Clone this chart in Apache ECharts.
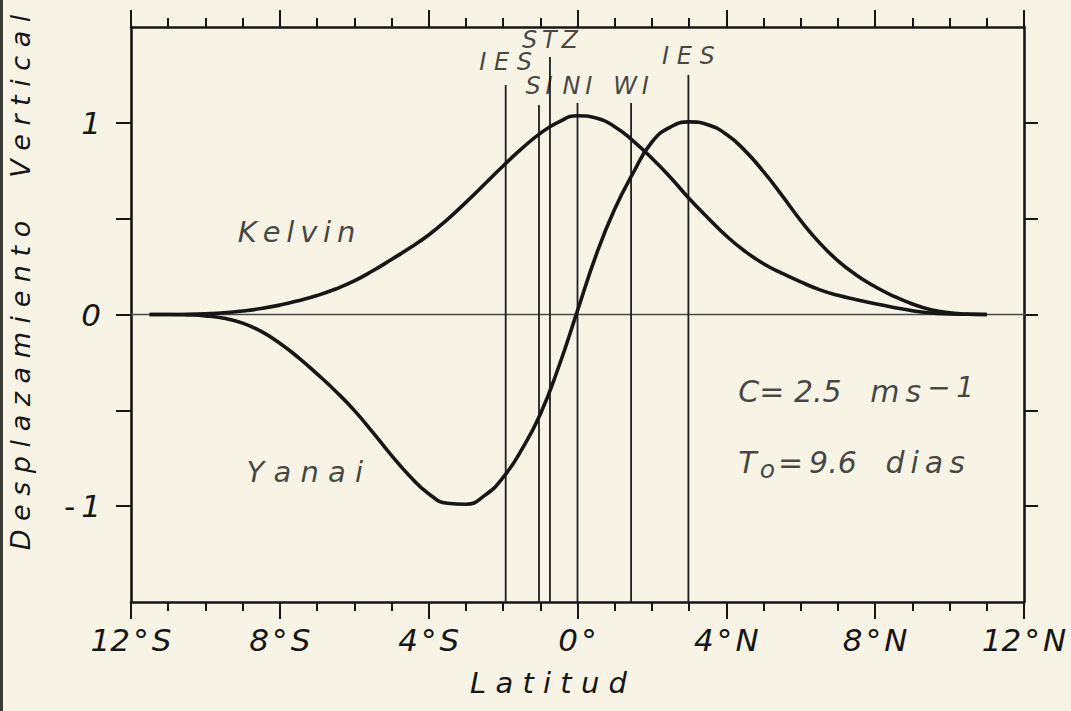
<!DOCTYPE html>
<html>
<head>
<meta charset="utf-8">
<script src="https://cdn.jsdelivr.net/npm/echarts@6/dist/echarts.min.js"></script>
<style>
  html, body { margin: 0; padding: 0; background: #f7f4e6; }
  #chart { width: 1071px; height: 711px; }
</style>
</head>
<body>
<div id="chart"></div>
<script>
// Latitude samples (degrees, negative = south)
const latitude = [
  -11.5, -11.0, -10.5, -10.0, -9.5, -9.0, -8.5, -8.0, -7.5, -7.0, -6.5, -6.0,
  -5.5, -5.0, -4.5, -4.0, -3.5, -3.0, -2.5, -2.0, -1.5, -1.0, -0.5, 0.0,
  0.5, 1.0, 1.5, 2.0, 2.5, 3.0, 3.5, 4.0, 4.5, 5.0, 5.5, 6.0,
  6.5, 7.0, 7.5, 8.0, 8.5, 9.0, 9.5, 10.0, 10.5, 11.0
];

// Normalised vertical displacement, Kelvin mode
const kelvin = [
  0, 0, 0.001, 0.004, 0.009, 0.018, 0.031, 0.049, 0.072, 0.099, 0.133, 0.175,
  0.228, 0.287, 0.348, 0.415, 0.495, 0.585, 0.68, 0.775, 0.865, 0.945, 1.005, 1.037,
  1.025, 0.98, 0.905, 0.815, 0.715, 0.605, 0.505, 0.41, 0.33, 0.265, 0.215, 0.17,
  0.13, 0.10, 0.077, 0.056, 0.037, 0.02, 0.008, 0.003, 0.001, 0
];

// Normalised vertical displacement, Yanai mode
const yanai = [
  0, 0, -0.002, -0.007, -0.02, -0.045, -0.088, -0.15, -0.225, -0.31, -0.40, -0.50,
  -0.615, -0.735, -0.845, -0.935, -0.985, -0.99, -0.945, -0.85, -0.705, -0.52, -0.27, 0.02,
  0.31, 0.55, 0.74, 0.90, 0.978, 1.005, 0.99, 0.94, 0.855, 0.745, 0.62, 0.49,
  0.375, 0.28, 0.205, 0.145, 0.095, 0.055, 0.025, 0.009, 0.002, 0
];

// Reference latitudes (markers drawn as vertical lines)
const refNames = ['IES', 'SI', 'STZ', 'NI', 'WI', 'IES'];
const refLat   = [-1.93, -1.035, -0.74, 0.0, 1.44, 2.98];
const refTop   = [1.197, 1.093, 1.343, 1.103, 1.103, 1.25];
const refLabelY = [1.32, 1.19, 1.43, 1.19, 1.19, 1.35];

// Axis ticks and labels
const latLabelTicks = [-12, -8, -4, 0, 4, 8, 12];
const dispTicks = [-1, -0.5, 0, 0.5, 1];
const dispLabelTicks = [-1, 0, 1];

const TS = '\u2009'; // thin space used for the spaced lettering
const HS = '\u200A'; // hair space
const spaced = (s, sep) => s.split('').join(sep);

const ink = '#161616';
const font = 'DejaVu Sans';

function latLabel(v) {
  if (v === 0) return '0' + HS + '°';
  const n = Math.abs(v);
  return n + HS + '°' + HS + (v < 0 ? 'S' : 'N');
}

const chart = echarts.init(document.getElementById('chart'), null, { renderer: 'svg' });

const refSeries = refLat.map((x, i) => ({
  type: 'line',
  name: 'ref' + i,
  data: [[x, -1.5], [x, refTop[i]]],
  symbol: 'none',
  silent: true,
  lineStyle: { color: '#1e1e1e', width: 1.8 },
  z: 3
}));

const textBase = { fontFamily: font, fontStyle: 'italic', color: ink };

const option = {
  backgroundColor: '#f7f4e6',
  animation: false,
  graphic: [
    { type: 'rect', left: 0, top: 0, shape: { width: 3, height: 711 }, style: { fill: '#3a3a36' } }
  ],
  grid: { left: 131, right: 47, top: 27, bottom: 109, containLabel: false, outerBoundsMode: 'none' },
  xAxis: [
    {
      type: 'value', position: 'bottom', min: -12, max: 12, interval: 4,
      axisLine: { show: true, onZero: false, lineStyle: { color: ink, width: 2.6 } },
      axisTick: { show: true, inside: false, length: 17, lineStyle: { color: ink, width: 2 } },
      minorTick: { show: true, splitNumber: 4, length: 9, lineStyle: { color: ink, width: 2 } },
      splitLine: { show: false },
      axisLabel: {
        margin: 22, fontSize: 31, ...textBase,
        formatter: v => latLabelTicks.includes(v) ? latLabel(v) : ''
      },
      name: spaced('Latitud', ' '),
      nameLocation: 'middle',
      nameGap: 66,
      nameTextStyle: { fontSize: 29, ...textBase, padding: [0, 58, 0, 0] }
    },
    {
      type: 'value', position: 'top', min: -12, max: 12, interval: 4,
      axisLine: { show: true, onZero: false, lineStyle: { color: ink, width: 2.6 } },
      axisTick: { show: true, inside: false, length: 17, lineStyle: { color: ink, width: 2 } },
      minorTick: { show: true, splitNumber: 4, length: 9, lineStyle: { color: ink, width: 2 } },
      splitLine: { show: false },
      axisLabel: { show: false }
    }
  ],
  yAxis: [
    {
      type: 'value', position: 'left', min: -1.5, max: 1.5,
      axisLine: { show: true, onZero: false, lineStyle: { color: ink, width: 2.6 } },
      axisTick: { show: true, inside: false, length: 15, customValues: dispTicks, lineStyle: { color: ink, width: 2 } },
      splitLine: { show: false },
      axisLabel: {
        margin: 30, fontSize: 31, ...textBase,
        customValues: dispLabelTicks,
        formatter: v => (v === -1 ? '-' + TS + '1' : String(v))
      },
      name: 'Desplazamiento     Vertical'.split('').join(' ').replace(/ {3,}/g, '     '),
      nameLocation: 'middle',
      nameGap: 97,
      nameRotate: 90,
      nameTextStyle: { fontSize: 27, ...textBase, padding: [0, 0, 0, 64] }
    },
    {
      type: 'value', position: 'right', min: -1.5, max: 1.5,
      axisLine: { show: true, onZero: false, lineStyle: { color: ink, width: 2.6 } },
      axisTick: { show: true, inside: false, length: 14, customValues: dispTicks, lineStyle: { color: ink, width: 2 } },
      splitLine: { show: false },
      axisLabel: { show: false }
    }
  ],
  series: [
    // equator reference line at zero displacement
    {
      type: 'line', name: 'zero', data: [[-12, 0], [12.6, 0]], clip: false,
      symbol: 'none', silent: true, lineStyle: { color: '#4a4a4a', width: 1.4 }, z: 2
    },
    ...refSeries,
    {
      type: 'line', name: 'Kelvin',
      data: latitude.map((x, i) => [x, kelvin[i]]),
      smooth: 0.5, symbol: 'none',
      lineStyle: { color: ink, width: 3.6 }, z: 5
    },
    {
      type: 'line', name: 'Yanai',
      data: latitude.map((x, i) => [x, yanai[i]]),
      smooth: 0.5, symbol: 'none',
      lineStyle: { color: ink, width: 3.6 }, z: 5
    },
    // names of the reference latitudes
    {
      type: 'scatter', name: 'refLabels', silent: true,
      data: refLat.map((x, i) => ({ value: [x, refLabelY[i]], name: refNames[i] })),
      symbolSize: 1, itemStyle: { color: 'rgba(0,0,0,0)' },
      label: {
        show: true, position: 'inside', fontSize: 24, ...textBase,
        formatter: p => spaced(p.name, p.name === 'IES' ? ' ' : TS)
      },
      z: 6
    },
    // curve names
    {
      type: 'scatter', name: 'curveLabels', silent: true,
      data: [
        { value: [-7.55, 0.43], name: spaced('Kelvin', TS) },
        { value: [-7.33, -0.82], name: spaced('Yanai', ' ') }
      ],
      symbolSize: 1, itemStyle: { color: 'rgba(0,0,0,0)' },
      label: { show: true, position: 'inside', fontSize: 29, ...textBase, formatter: p => p.name },
      z: 6
    },
    // wave parameters
    {
      type: 'scatter', name: 'params', silent: true,
      data: [
        { value: [4.31, -0.40], name: 'c' },
        { value: [4.31, -0.77], name: 't' }
      ],
      symbolSize: 1, itemStyle: { color: 'rgba(0,0,0,0)' },
      label: {
        show: true, position: 'right', distance: 0, fontSize: 30, ...textBase,
        formatter: p => p.name === 'c'
          ? '{a|C= 2.5   m' + TS + 's' + TS + '}{s|−' + TS + '1}'
          : '{a|T}{b|o}{a|=' + TS + '9.6   d' + TS + 'i' + TS + 'a' + TS + 's}',
        rich: {
          a: { fontSize: 30, ...textBase },
          s: { fontSize: 28, ...textBase, padding: [0, 0, 8, 0] },
          b: { fontSize: 25, ...textBase, padding: [14, 3, 0, 3] }
        }
      },
      z: 6
    }
  ]
};

chart.setOption(option);
</script>
</body>
</html>
